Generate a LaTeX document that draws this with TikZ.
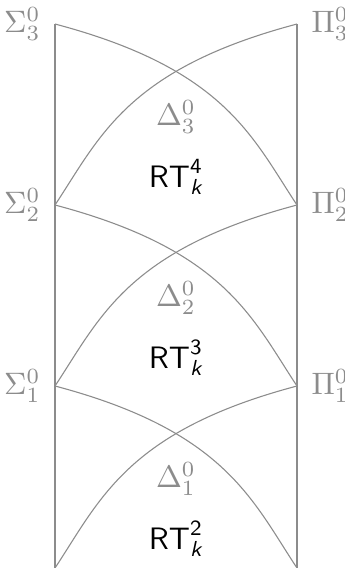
\documentclass[tikz,border=0pt]{standalone}
\usepackage{tikz}
\usetikzlibrary{positioning}
\usepackage{xcolor}
\definecolor{hiergray}{RGB}{140,140,140}
\usepackage{amsmath}

\begin{document}
\begin{tikzpicture}[
  x=0.01134cm, y=-0.01134cm,
  side/.style={draw=hiergray, line width=0.4pt},
  arcline/.style={draw=hiergray, line width=0.35pt},
  classlbl/.style={text=hiergray, inner sep=1pt},
  rtlbl/.style={text=black, inner sep=1pt},
]
  \useasboundingbox (0,0) rectangle (345,568);

  % Level points (left: Sigma, right: Pi)
  \coordinate (s3) at (55,24);
  \coordinate (s2) at (55,205);
  \coordinate (s1) at (55,386);
  \coordinate (s0) at (55,568);
  \coordinate (p3) at (297,24);
  \coordinate (p2) at (297,205);
  \coordinate (p1) at (297,386);
  \coordinate (p0) at (297,568);

  % Sides
  \draw[side] (s3) -- (s0);
  \draw[side] (p3) -- (p0);

  % Crossing curves
  \draw[arcline] (s3) .. controls +(170,45) and +(-45,-68) .. (p2);
  \draw[arcline] (p3) .. controls +(-170,45) and +(45,-68) .. (s2);
  \draw[arcline] (s2) .. controls +(170,45) and +(-45,-68) .. (p1);
  \draw[arcline] (p2) .. controls +(-170,45) and +(45,-68) .. (s1);
  \draw[arcline] (s1) .. controls +(170,45) and +(-45,-68) .. (p0);
  \draw[arcline] (p1) .. controls +(-170,45) and +(45,-68) .. (s0);

  % Labels
  \node[classlbl, left=3.5pt of s3] (sig3) {$\Sigma^0_3$};
  \node[classlbl, left=3.5pt of s2] (sig2) {$\Sigma^0_2$};
  \node[classlbl, left=3.5pt of s1] (sig1) {$\Sigma^0_1$};
  \node[classlbl, right=3.5pt of p3] (pi3) {$\Pi^0_3$};
  \node[classlbl, right=3.5pt of p2] (pi2) {$\Pi^0_2$};
  \node[classlbl, right=3.5pt of p1] (pi1) {$\Pi^0_1$};

  \node[classlbl] (del3) at (176,117) {$\Delta^0_3$};
  \node[classlbl] (del2) at (176,298) {$\Delta^0_2$};
  \node[classlbl] (del1) at (176,479) {$\Delta^0_1$};

  \node[rtlbl] (rt4) at (176,177) {$\mathsf{RT}^{\mathsf{4}}_{\textsf{\itshape k}}$};
  \node[rtlbl] (rt3) at (176,358) {$\mathsf{RT}^{\mathsf{3}}_{\textsf{\itshape k}}$};
  \node[rtlbl] (rt2) at (176,539) {$\mathsf{RT}^{\mathsf{2}}_{\textsf{\itshape k}}$};
\end{tikzpicture}
\end{document}
